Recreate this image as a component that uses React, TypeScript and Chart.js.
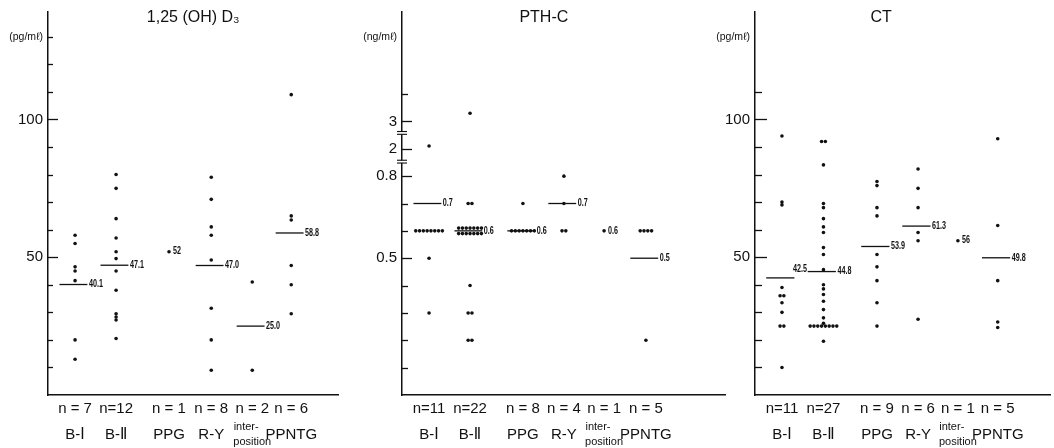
import React, { useEffect, useRef } from "react";
import { Chart, registerables } from "chart.js";

Chart.register(...registerables);

// ---------------- data ----------------
const categoryLines: string[][] = [["B-Ⅰ"], ["B-Ⅱ"], ["PPG"], ["R-Y"], ["inter-    ", "position"], ["PPNTG"]];

// 1,25(OH)D3 (pg/mℓ)
const d3BI = [58, 55, 46.5, 45, 41.5, 20, 13];
const d3BII = [80, 75, 64, 57, 52, 49.5, 45, 38, 29.5, 28.3, 27.2, 20.5];
const d3PPG = [52];
const d3RY = [79, 71, 61, 58, 49, 31.5, 20, 9];
const d3Inter = [41, 9];
const d3PPNTG = [109, 65, 63.5, 47, 40, 29.5];
const d3MeanLabels = ["40.1", "47.1", "52", "47.0", "25.0", "58.8"];
const d3TickMarks = [10, 20, 30, 40, 50, 60, 70, 80, 90, 100, 110, 120, 130];
const d3Labeled = [50, 100];

// PTH-C (ng/mℓ)
const pthBI = [2.1, 0.6, 0.6, 0.6, 0.6, 0.6, 0.6, 0.6, 0.6, 0.5, 0.3];
const pthBII = [3.3, 0.7, 0.7, 0.61, 0.61, 0.61, 0.61, 0.61, 0.61, 0.61, 0.59, 0.59, 0.59, 0.59, 0.59, 0.59, 0.59, 0.4, 0.3, 0.3, 0.2, 0.2];
const pthPPG = [0.7, 0.6, 0.6, 0.6, 0.6, 0.6, 0.6, 0.6];
const pthRY = [0.8, 0.7, 0.6, 0.6];
const pthInter = [0.6];
const pthPPNTG = [0.6, 0.6, 0.6, 0.6, 0.2];
const pthMeanLabels = ["0.7", "0.6", "0.6", "0.7", "0.6", "0.5"];
const pthTickMarks = [0.1, 0.2, 0.3, 0.4, 0.5, 0.6, 0.7, 0.8, 2, 3, 4];
const pthLabeled = [0.5, 0.8, 2, 3];

// CT (pg/mℓ)
const ctBI = [94, 70, 69, 39, 36, 36, 33.5, 30, 25, 25, 10];
const ctBII = [92, 92, 83.5, 69.5, 68, 64, 61, 59, 53.5, 51, 45.5, 40, 38.5, 36.5, 34, 31, 28, 26, 25, 25, 25, 25, 25, 25, 25, 25, 19.5];
const ctPPG = [77.5, 76, 68, 65, 51, 46.5, 41.5, 33.5, 25];
const ctRY = [82, 75, 68, 59, 56, 27.5];
const ctInter = [56];
const ctPPNTG = [93, 61.5, 41.5, 26.5, 24.5];
const ctMeanLabels = ["42.5", "44.8", "53.9", "61.3", "56", "49.8"];
const ctTickMarks = [10, 20, 30, 40, 50, 60, 70, 80, 90, 100, 110];
const ctLabeled = [50, 100];

// ---------------- styling / layout ----------------
const INK = "#111";
const FONT = '"Liberation Sans", Arial, "DejaVu Sans", sans-serif';
const H = 448;

const identity = (v: number) => v;
// broken PTH axis: 0–0.8 linear, then "2" and "3" segments
const pthScale = (v: number) => (v < 1.2 ? v * 10 : v < 2.5 ? 9 + (v - 2) : 10 + (v - 3));

type Panel = {
  title: string;
  groups: number[][];
  meanLabels: string[];
  tickMarks: number[];
  labeled: number[];
  unit: string;
  unitAt: number; // in scale units
  toScale: (v: number) => number;
  yMax: number;
  breaks: number[];
  left: number;
  width: number;
  axisW: number;
  padRight: number;
  xMin: number;
  xMax: number;
  xPos: number[];
  titleAt: number;
  majorLen: number;
  minorLen: number;
  nudges: Record<number, [number, number]>;
};

const panels: Panel[] = [
  {
    title: "1,25 (OH) D₃",
    groups: [d3BI, d3BII, d3PPG, d3RY, d3Inter, d3PPNTG],
    meanLabels: d3MeanLabels,
    tickMarks: d3TickMarks,
    labeled: d3Labeled,
    unit: "(pg/mℓ)",
    unitAt: 130,
    toScale: identity,
    yMax: 139,
    breaks: [],
    left: 0,
    width: 386,
    axisW: 48,
    padRight: 48,
    xMin: -0.66,
    xMax: 6.41,
    xPos: [0, 1, 2.29, 3.32, 4.32, 5.27],
    titleAt: 2.88,
    majorLen: 10,
    minorLen: 5,
    nudges: {},
  },
  {
    title: "PTH-C",
    groups: [pthBI, pthBII, pthPPG, pthRY, pthInter, pthPPNTG],
    meanLabels: pthMeanLabels,
    tickMarks: pthTickMarks,
    labeled: pthLabeled,
    unit: "(ng/mℓ)",
    unitAt: 13.1,
    toScale: pthScale,
    yMax: 14,
    breaks: [8.53, 9.58],
    left: 350,
    width: 388,
    axisW: 52,
    padRight: 13,
    xMin: -0.66,
    xMax: 7.22,
    xPos: [0, 1, 2.29, 3.29, 4.27, 5.29],
    titleAt: 2.8,
    majorLen: 10,
    minorLen: 6,
    nudges: {},
  },
  {
    title: "CT",
    groups: [ctBI, ctBII, ctPPG, ctRY, ctInter, ctPPNTG],
    meanLabels: ctMeanLabels,
    tickMarks: ctTickMarks,
    labeled: ctLabeled,
    unit: "(pg/mℓ)",
    unitAt: 130,
    toScale: identity,
    yMax: 139,
    breaks: [],
    left: 706,
    width: 350,
    axisW: 49,
    padRight: 6,
    xMin: -0.65,
    xMax: 6.46,
    xPos: [0, 1, 2.29, 3.28, 4.24, 5.2],
    titleAt: 2.39,
    majorLen: 12,
    minorLen: 7,
    nudges: { 0: [-3, -9] },
  },
];

const DOT_STEP_PX = 3.8;

function buildPoints(p: Panel) {
  const pxPerUnit = (p.width - p.axisW - p.padRight) / (p.xMax - p.xMin);
  const step = DOT_STEP_PX / pxPerUnit;
  const pts: { x: number; y: number }[] = [];
  p.groups.forEach((vals, ci) => {
    const counts = new Map<number, number>();
    vals.forEach((v) => counts.set(v, (counts.get(v) || 0) + 1));
    const seen = new Map<number, number>();
    vals.forEach((v) => {
      const k = counts.get(v) || 1;
      const j = seen.get(v) || 0;
      seen.set(v, j + 1);
      pts.push({ x: p.xPos[ci] + (j - (k - 1) / 2) * step, y: p.toScale(v) });
    });
  });
  return pts;
}

function nLabel(n: number) {
  return n < 10 ? `n = ${n}` : `n=${n}`;
}

function makeDecor(p: Panel) {
  return {
    id: "decor",
    afterDatasetsDraw(chart: any) {
      const ctx: CanvasRenderingContext2D = chart.ctx;
      const xs = chart.scales.x;
      const ys = chart.scales.y;
      const area = chart.chartArea;
      ctx.save();
      ctx.strokeStyle = INK;
      ctx.fillStyle = INK;
      ctx.lineCap = "butt";

      // inward tick marks
      ctx.lineWidth = 1.3;
      p.tickMarks.forEach((v) => {
        const y = Math.round(ys.getPixelForValue(p.toScale(v))) + 0.5;
        const len = p.labeled.includes(v) ? p.majorLen : p.minorLen;
        ctx.beginPath();
        ctx.moveTo(area.left, y);
        ctx.lineTo(area.left + len, y);
        ctx.stroke();
      });

      // axis breaks
      p.breaks.forEach((b) => {
        const y = ys.getPixelForValue(b);
        ctx.fillStyle = "#fff";
        ctx.fillRect(area.left - 2, y - 1.2, 4, 2.4);
        ctx.fillStyle = INK;
        ctx.lineWidth = 1.1;
        [y - 1.4, y + 1.4].forEach((yy) => {
          ctx.beginPath();
          ctx.moveTo(area.left - 5, yy);
          ctx.lineTo(area.left + 5, yy);
          ctx.stroke();
        });
      });

      // mean lines and value labels
      const drawCondensed = (text: string, x: number, y: number) => {
        ctx.save();
        ctx.translate(x, y);
        ctx.scale(0.72, 1);
        ctx.font = `bold 10px ${FONT}`;
        ctx.textAlign = "left";
        ctx.textBaseline = "middle";
        ctx.fillStyle = INK;
        ctx.fillText(text, 0, 0);
        ctx.restore();
      };
      p.groups.forEach((g, i) => {
        const label = p.meanLabels[i];
        const mean = Number(label);
        const y = ys.getPixelForValue(p.toScale(mean));
        const nudge = p.nudges[i] || [0, 0];
        if (g.length > 1) {
          const x1 = xs.getPixelForValue(p.xPos[i] - 0.38);
          const x2 = xs.getPixelForValue(p.xPos[i] + 0.3);
          ctx.lineWidth = 1.3;
          ctx.beginPath();
          ctx.moveTo(x1, y);
          ctx.lineTo(x2, y);
          ctx.stroke();
          drawCondensed(label, x2 + 1.5 + nudge[0], y + nudge[1]);
        } else {
          const cx = xs.getPixelForValue(p.xPos[i]);
          drawCondensed(label, cx + 4 + nudge[0], y + nudge[1]);
        }
      });

      // title
      ctx.font = `16px ${FONT}`;
      ctx.textAlign = "center";
      ctx.textBaseline = "middle";
      ctx.fillStyle = INK;
      ctx.fillText(p.title, xs.getPixelForValue(p.titleAt), 18);
      ctx.restore();
    },
  };
}

function PanelChart({ p }: { p: Panel }) {
  const ref = useRef<HTMLCanvasElement>(null);
  useEffect(() => {
    const yTickVals = [...p.labeled.map((v) => p.toScale(v)), p.unitAt];
    const yTickLabels = [...p.labeled.map((v) => String(v)), p.unit];
    const nLabels = p.groups.map((g) => nLabel(g.length));
    const unitIndex = yTickVals.length - 1;
    const noGrid = { display: false, drawTicks: false, tickLength: 0 };
    const chart = new Chart(ref.current as HTMLCanvasElement, {
      type: "scatter",
      data: {
        datasets: [
          {
            data: buildPoints(p),
            pointRadius: 1.8,
            pointHoverRadius: 1.8,
            pointBackgroundColor: INK,
            pointBorderWidth: 0,
            xAxisID: "x",
            yAxisID: "y",
          } as any,
        ],
      },
      options: {
        animation: false,
        responsive: false,
        events: [],
        layout: { padding: { top: 12, right: p.padRight, left: 0, bottom: 0 } },
        plugins: {
          legend: { display: false },
          tooltip: { enabled: false },
          title: { display: false },
        },
        scales: {
          x: {
            type: "linear",
            position: "bottom",
            min: p.xMin,
            max: p.xMax,
            weight: 0,
            grid: noGrid,
            border: { display: true, color: INK, width: 1.5 },
            ticks: {
              autoSkip: false,
              maxRotation: 0,
              minRotation: 0,
              padding: 5,
              color: INK,
              font: { family: FONT, size: 15, lineHeight: "18px" },
              callback: (_v: any, i: number) => nLabels[i],
            },
            afterBuildTicks: (s: any) => {
              s.ticks = p.xPos.map((v) => ({ value: v }));
            },
            afterFit: (s: any) => {
              s.height = 24;
            },
          } as any,
          x2: {
            type: "linear",
            position: "bottom",
            min: p.xMin,
            max: p.xMax,
            weight: 1,
            grid: noGrid,
            border: { display: false },
            ticks: {
              autoSkip: false,
              maxRotation: 0,
              minRotation: 0,
              padding: 0.5,
              color: INK,
              font: (c: any) =>
                c.index === 4
                  ? { family: FONT, size: 11, lineHeight: "15px" }
                  : { family: FONT, size: 15, lineHeight: "31px" },
              callback: (_v: any, i: number) => categoryLines[i],
            },
            afterBuildTicks: (s: any) => {
              s.ticks = p.xPos.map((v) => ({ value: v }));
            },
            afterFit: (s: any) => {
              s.height = 29;
            },
          } as any,
          y: {
            type: "linear",
            position: "left",
            min: 0,
            max: p.yMax,
            grid: noGrid,
            border: { display: true, color: INK, width: 1.5 },
            ticks: {
              autoSkip: false,
              padding: 5,
              color: INK,
              font: (c: any) =>
                c.index === unitIndex ? { family: FONT, size: 10.5 } : { family: FONT, size: 15 },
              callback: (_v: any, i: number) => yTickLabels[i],
            },
            afterBuildTicks: (s: any) => {
              s.ticks = yTickVals.map((v) => ({ value: v }));
            },
            afterFit: (s: any) => {
              s.width = p.axisW;
            },
          } as any,
        },
      } as any,
      plugins: [makeDecor(p)],
    });
    return () => chart.destroy();
  }, [p]);
  return (
    <canvas
      ref={ref}
      width={p.width}
      height={H}
      style={{ position: "absolute", left: p.left, top: 0, width: p.width, height: H }}
    />
  );
}

export default function App() {
  return (
    <div
      style={{
        position: "absolute",
        left: 0,
        top: 0,
        width: 1054,
        height: H,
        overflow: "hidden",
        background: "#fff",
      }}
    >
      {panels.map((p, i) => (
        <PanelChart key={i} p={p} />
      ))}
    </div>
  );
}
